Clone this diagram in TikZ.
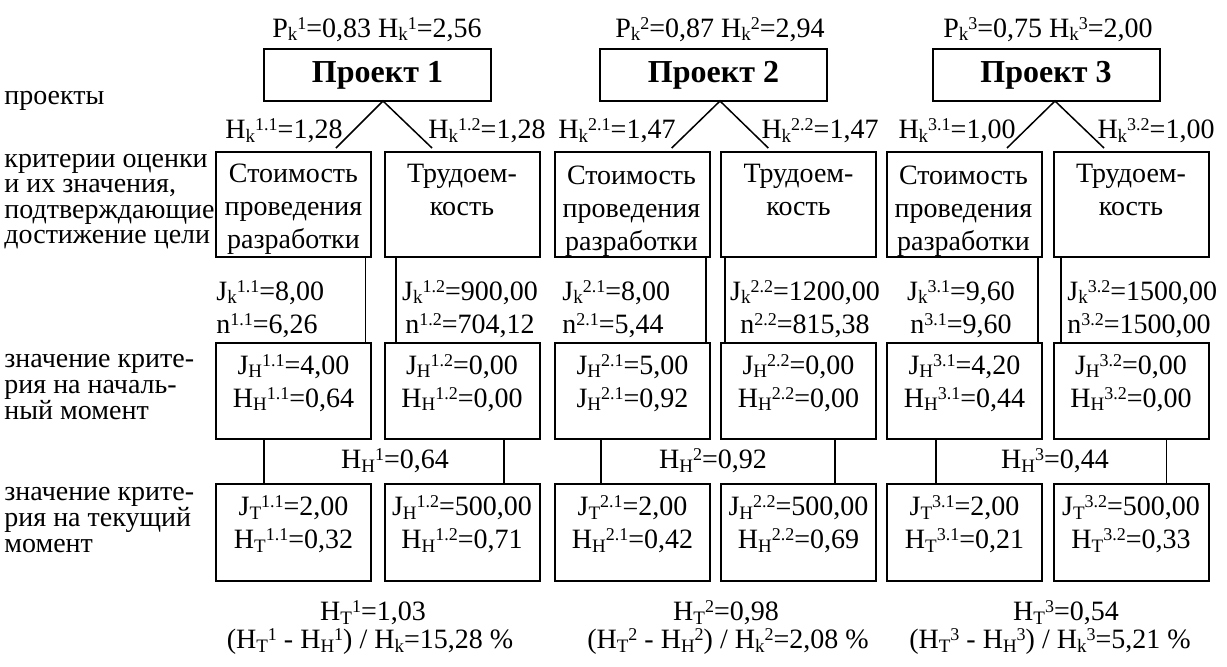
\documentclass[tikz,border=0pt]{standalone}
\usepackage{fontspec}
\setmainfont{Liberation Serif}
\newcommand\xsup[1]{\raisebox{4pt}{\fontsize{9}{9}\selectfont #1}}
\newcommand\xsub[1]{\raisebox{-1.8pt}{\fontsize{9.5}{9.5}\selectfont #1}}
\tikzset{
  cbox/.style={draw, line width=1pt, inner sep=0pt, outer sep=0pt, minimum width=77.5pt},
  pbox/.style={draw, line width=1pt, inner sep=0pt, outer sep=0pt, minimum width=113.5pt, minimum height=26pt, font=\fontsize{16}{19}\selectfont\bfseries},
  conn/.style={line width=0.75pt},
  txt/.style={inner sep=0pt, align=center, font=\fontsize{14}{16.5}\selectfont},
  ltxt/.style={inner sep=0pt, align=left, anchor=west, font=\fontsize{14}{16.5}\selectfont},
  side/.style={inner sep=0pt, anchor=base west, font=\fontsize{14}{16}\selectfont},
}
\begin{document}
\begin{tikzpicture}[x=0.5pt,y=-0.5pt]
\useasboundingbox (0,0) rectangle (1227,666);

% top labels
\node[txt] (t1) at (377,29.5) {P\xsub{k}\xsup{1}=0,83 H\xsub{k}\xsup{1}=2,56};
\node[txt] (t2) at (720,29.5) {P\xsub{k}\xsup{2}=0,87 H\xsub{k}\xsup{2}=2,94};
\node[txt] (t3) at (1048,29.5) {P\xsub{k}\xsup{3}=0,75 H\xsub{k}\xsup{3}=2,00};

% project boxes
\node[pbox] (p1) at (377.5,75) {Проект 1};
\node[pbox] (p2) at (713.5,75) {Проект 2};
\node[pbox] (p3) at (1046,75) {Проект 3};

% side labels
\node[side] (s0) at (4,104) {проекты};
\node[side] (s1a) at (4,167) {критерии оценки};
\node[side] (s1b) at (4,192.5) {и их значения,};
\node[side] (s1c) at (4,218) {подтверждающие};
\node[side] (s1d) at (4,243.5) {достижение цели};
\node[side] (s2a) at (4,367) {значение крите-};
\node[side] (s2b) at (4,393) {рия на началь-};
\node[side] (s2c) at (4,419) {ный момент};
\node[side] (s3a) at (4,500) {значение крите-};
\node[side] (s3b) at (4,526) {рия на текущий};
\node[side] (s3c) at (4,552) {момент};

% tree lines
\coordinate (a1) at (383,101); \coordinate (l11) at (336,148); \coordinate (l12) at (432,148);
\coordinate (a2) at (720,101); \coordinate (l21) at (671.7,148); \coordinate (l22) at (768.3,148);
\coordinate (a3) at (1055,101); \coordinate (l31) at (1007,148); \coordinate (l32) at (1104,148);
\draw[conn] (l11) -- (a1) -- (l12);
\draw[conn] (l21) -- (a2) -- (l22);
\draw[conn] (l31) -- (a3) -- (l32);

% H_k labels
\node[txt] (hk11) at (284,131) {H\xsub{k}\xsup{1.1}=1,28};
\node[txt] (hk12) at (487,131) {H\xsub{k}\xsup{1.2}=1,28};
\node[txt] (hk21) at (617,131) {H\xsub{k}\xsup{2.1}=1,47};
\node[txt] (hk22) at (820,131) {H\xsub{k}\xsup{2.2}=1,47};
\node[txt] (hk31) at (957,131) {H\xsub{k}\xsup{3.1}=1,00};
\node[txt] (hk32) at (1156,131) {H\xsub{k}\xsup{3.2}=1,00};

% row 2: criteria boxes
\node[cbox, minimum height=52.5pt] (c11) at (293.5,204.5) {};
\node[cbox, minimum height=52.5pt] (c12) at (462,204.5) {};
\node[cbox, minimum height=52.5pt] (c21) at (632.5,204.5) {};
\node[cbox, minimum height=52.5pt] (c22) at (798.5,204.5) {};
\node[cbox, minimum height=52.5pt] (c31) at (964.5,204.5) {};
\node[cbox, minimum height=52.5pt] (c32) at (1131,204.5) {};
\node[txt] (c11t) at (293.5,209) {Стоимость\\проведения\\разработки};
\node[txt] (c12t) at (462,190) {Трудоем-\\кость};
\node[txt] (c21t) at (631.5,211) {Стоимость\\проведения\\разработки};
\node[txt] (c22t) at (798.5,190) {Трудоем-\\кость};
\node[txt] (c31t) at (963.5,211) {Стоимость\\проведения\\разработки};
\node[txt] (c32t) at (1131,190) {Трудоем-\\кость};

% J_k / n labels
\node[ltxt] (j11) at (216,309) {J\xsub{k}\xsup{1.1}=8,00\\n\xsup{1.1}=6,26};
\node[txt] (j12) at (470,309) {J\xsub{k}\xsup{1.2}=900,00\\n\xsup{1.2}=704,12};
\node[ltxt] (j21) at (562,309) {J\xsub{k}\xsup{2.1}=8,00\\n\xsup{2.1}=5,44};
\node[txt] (j22) at (805,309) {J\xsub{k}\xsup{2.2}=1200,00\\n\xsup{2.2}=815,38};
\node[txt] (j31) at (961,309) {J\xsub{k}\xsup{3.1}=9,60\\n\xsup{3.1}=9,60};
\node[ltxt] (j32) at (1067,309) {J\xsub{k}\xsup{3.2}=1500,00\\n\xsup{3.2}=1500,00};

% row 3 boxes
\node[cbox, minimum height=48pt] (r11) at (293.5,391) {};
\node[cbox, minimum height=48pt] (r12) at (462,391) {};
\node[cbox, minimum height=48pt] (r21) at (632.5,391) {};
\node[cbox, minimum height=48pt] (r22) at (798.5,391) {};
\node[cbox, minimum height=48pt] (r31) at (964.5,391) {};
\node[cbox, minimum height=48pt] (r32) at (1131,391) {};
\node[txt] (r11t) at (293.5,383) {J\xsub{H}\xsup{1.1}=4,00\\H\xsub{H}\xsup{1.1}=0,64};
\node[txt] (r12t) at (462,383) {J\xsub{H}\xsup{1.2}=0,00\\H\xsub{H}\xsup{1.2}=0,00};
\node[txt] (r21t) at (632.5,383) {J\xsub{H}\xsup{2.1}=5,00\\J\xsub{H}\xsup{2.1}=0,92};
\node[txt] (r22t) at (798.5,383) {J\xsub{H}\xsup{2.2}=0,00\\H\xsub{H}\xsup{2.2}=0,00};
\node[txt] (r31t) at (964.5,383) {J\xsub{H}\xsup{3.1}=4,20\\H\xsub{H}\xsup{3.1}=0,44};
\node[txt] (r32t) at (1131,383) {J\xsub{H}\xsup{3.2}=0,00\\H\xsub{H}\xsup{3.2}=0,00};

% row 4 boxes
\node[cbox, minimum height=48.5pt] (q11) at (293.5,532.5) {};
\node[cbox, minimum height=48.5pt] (q12) at (462,532.5) {};
\node[cbox, minimum height=48.5pt] (q21) at (632.5,532.5) {};
\node[cbox, minimum height=48.5pt] (q22) at (798.5,532.5) {};
\node[cbox, minimum height=48.5pt] (q31) at (964.5,532.5) {};
\node[cbox, minimum height=48.5pt] (q32) at (1131,532.5) {};
\node[txt] (q11t) at (293.5,524.5) {J\xsub{T}\xsup{1.1}=2,00\\H\xsub{T}\xsup{1.1}=0,32};
\node[txt] (q12t) at (462,524.5) {J\xsub{H}\xsup{1.2}=500,00\\H\xsub{H}\xsup{1.2}=0,71};
\node[txt] (q21t) at (632.5,524.5) {J\xsub{T}\xsup{2.1}=2,00\\H\xsub{H}\xsup{2.1}=0,42};
\node[txt] (q22t) at (798.5,524.5) {J\xsub{H}\xsup{2.2}=500,00\\H\xsub{H}\xsup{2.2}=0,69};
\node[txt] (q31t) at (964.5,524.5) {J\xsub{T}\xsup{3.1}=2,00\\H\xsub{T}\xsup{3.1}=0,21};
\node[txt] (q32t) at (1131,524.5) {J\xsub{T}\xsup{3.2}=500,00\\H\xsub{T}\xsup{3.2}=0,33};

% vertical connectors row 2 -> row 3
\foreach \n/\x in {11/365.7,12/396,21/706,22/725,31/1038,32/1061}{
  \coordinate (v\n) at (\x,0);
  \draw[conn] (v\n |- c\n.south) -- (v\n |- r\n.north);
}
% vertical connectors row 3 -> row 4
\foreach \n/\x in {11/264,12/504,21/601,22/835,31/936,32/1166.7}{
  \coordinate (w\n) at (\x,0);
  \draw[conn] (w\n |- r\n.south) -- (w\n |- q\n.north);
}

% H_H labels
\node[txt] (hh1) at (395,461) {H\xsub{H}\xsup{1}=0,64};
\node[txt] (hh2) at (713,461) {H\xsub{H}\xsup{2}=0,92};
\node[txt] (hh3) at (1055,461) {H\xsub{H}\xsup{3}=0,44};

% bottom
\node[txt] (ht1) at (373,613) {H\xsub{T}\xsup{1}=1,03};
\node[txt] (ht2) at (726,613) {H\xsub{T}\xsup{2}=0,98};
\node[txt] (ht3) at (1066,613) {H\xsub{T}\xsup{3}=0,54};
\node[txt] (f1) at (370,642) {(H\xsub{T}\xsup{1} - H\xsub{H}\xsup{1}) / H\xsub{k}=15,28 \%};
\node[txt] (f2) at (728,642) {(H\xsub{T}\xsup{2} - H\xsub{H}\xsup{2}) / H\xsub{k}\xsup{2}=2,08 \%};
\node[txt] (f3) at (1050,642) {(H\xsub{T}\xsup{3} - H\xsub{H}\xsup{3}) / H\xsub{k}\xsup{3}=5,21 \%};
\end{tikzpicture}
\end{document}
